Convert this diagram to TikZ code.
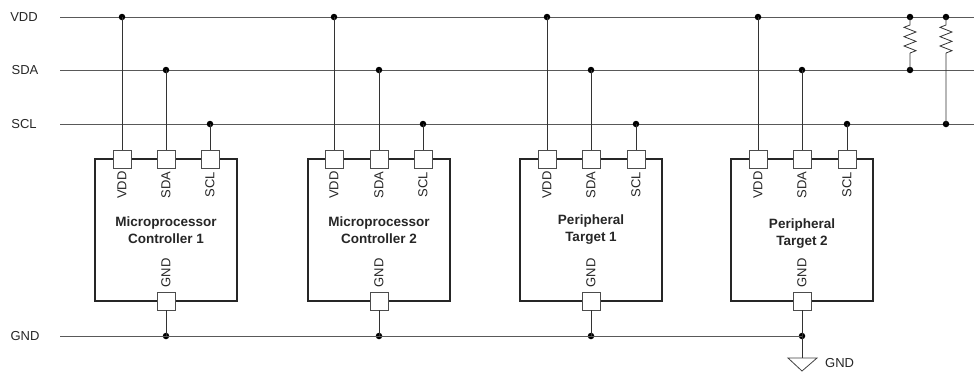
\documentclass[tikz,border=0pt]{standalone}
\usepackage{fontspec}
\setmainfont{Liberation Sans}
\usetikzlibrary{calc}
\begin{document}
\begin{tikzpicture}[x=1pt,y=-1pt,
  bus/.style={draw=black!65, line width=0.9pt},
  wire/.style={draw=black!80, line width=1pt},
  chip/.style={draw=black!85, line width=1.8pt, minimum width=142pt, minimum height=142pt, inner sep=0pt},
  pin/.style={draw=black!70, fill=white, line width=0.8pt, minimum size=18pt, inner sep=0pt},
  pinlabel/.style={rotate=90, font=\fontsize{13}{13}\selectfont, text=black!85, inner sep=0pt},
  title/.style={font=\fontsize{13.5}{17}\selectfont\bfseries, text=black!85, align=center, inner sep=0pt},
  buslabel/.style={font=\fontsize{13}{13}\selectfont, text=black!85, inner sep=0pt},
  dot/.style={circle, fill=black, minimum size=6.5pt, inner sep=0pt}
]
\useasboundingbox (0,0) rectangle (974,373);

% bus labels and ends
\node[buslabel] (lvdd) at (24,17) {VDD};
\node[buslabel] (lsda) at (25,70) {SDA};
\node[buslabel] (lscl) at (24,124) {SCL};
\node[buslabel] (lgnd) at (25,336) {GND};
\coordinate (vdd0) at (60,17);  \coordinate (vdd1) at (974,17);
\coordinate (sda0) at (60,70);  \coordinate (sda1) at (974,70);
\coordinate (scl0) at (60,124); \coordinate (scl1) at (974,124);
\coordinate (gnd0) at (60,336);
\draw[bus] (vdd0) -- (vdd1);
\draw[bus] (sda0) -- (sda1);
\draw[bus] (scl0) -- (scl1);

% chips
\foreach \n/\cx/\dv/\ds/\dc/\ty/\la/\lb in {
  1/166/-44/0/44/230/Microprocessor/Controller 1,
  2/379/-45/0/44/230/Microprocessor/Controller 2,
  3/591/-44/0/45/230/Peripheral/Target 1,
  4/802/-44/0/45/234/Peripheral/Target 2}{
  \node[chip] (c\n) at (\cx,230) {};
  \node[title] (t\n) at (\cx,\ty) {\la\\\lb};
  \node[pin] (pv\n) at (\cx+\dv,159) {};
  \node[pin] (ps\n) at (\cx+\ds,159) {};
  \node[pin] (pc\n) at (\cx+\dc,159) {};
  \node[pin] (pg\n) at (\cx,301) {};
  \node[pinlabel] at (\cx+\dv,185) {VDD};
  \node[pinlabel] at (\cx+\ds,185) {SDA};
  \node[pinlabel] at (\cx+\dc,185) {SCL};
  \node[pinlabel] at (\cx,273) {GND};
  \node[dot] (jv\n) at (\cx+\dv,17) {};
  \node[dot] (js\n) at (\cx+\ds,70) {};
  \node[dot] (jc\n) at (\cx+\dc,124) {};
  \node[dot] (jg\n) at (\cx,336) {};
  \draw[wire] (jv\n.center) -- (pv\n.north);
  \draw[wire] (js\n.center) -- (ps\n.north);
  \draw[wire] (jc\n.center) -- (pc\n.north);
  \draw[wire] (pg\n.south) -- (jg\n.center);
}
\draw[bus] (gnd0) -- (jg4.center);

% ground symbol
\coordinate (gtop) at (802,358);
\draw[wire] (jg4.center) -- (gtop);
\draw[draw=black!75, line width=0.8pt] (788,358) -- (817,358) -- (802,371) -- cycle;
\node[buslabel, anchor=west] (gl) at (825,363) {GND};

% pull-up resistors
\node[dot] (r1t) at (910,17) {};
\node[dot] (r1b) at (910,70) {};
\node[dot] (r2t) at (946,17) {};
\node[dot] (r2b) at (946,124) {};
\foreach \r/\x/\yb in {1/910/70, 2/946/124}{
  \draw[wire, line width=0.8pt] (r\r t.center) -- (\x,25)
    -- ++(-6,2.33) -- ++(12,4.67) -- ++(-12,4.67) -- ++(12,4.67) -- ++(-12,4.67) -- ++(12,4.67) -- ++(-6,2.33)
    -- (\x,53) -- (r\r b.center);
}
\end{tikzpicture}
\end{document}
